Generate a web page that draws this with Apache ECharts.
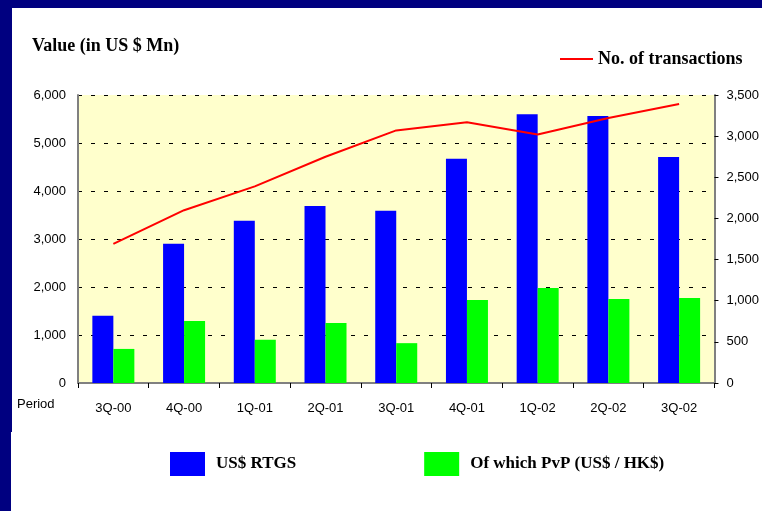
<!DOCTYPE html>
<html>
<head>
<meta charset="utf-8">
<script src="https://cdn.jsdelivr.net/npm/echarts@6/dist/echarts.min.js"></script>
<style>
  html, body { margin: 0; padding: 0; background: #fff; }
  #chart { width: 762px; height: 511px; }
</style>
</head>
<body>
<div id="chart"></div>
<script>
// data
const periods = ['3Q-00', '4Q-00', '1Q-01', '2Q-01', '3Q-01', '4Q-01', '1Q-02', '2Q-02', '3Q-02'];
const rtgsValue = [1400, 2900, 3380, 3690, 3590, 4670, 5600, 5560, 4710];
const pvpValue = [710, 1290, 900, 1250, 830, 1730, 1980, 1750, 1770];
const transactions = [1690, 2100, 2390, 2750, 3070, 3170, 3020, 3220, 3390];

const sans = '"Liberation Sans", Arial, sans-serif';
const serif = '"Liberation Serif", "Times New Roman", serif';
const navy = '#000080';

const fmt = v => v.toLocaleString('en-US');

const chart = echarts.init(document.getElementById('chart'));
chart.setOption({
  animation: false,
  backgroundColor: '#fff',
  title: {
    text: 'Value (in US $ Mn)',
    left: 27, top: 32,
    textStyle: { fontFamily: serif, fontWeight: 'bold', fontSize: 18, color: '#000' }
  },
  legend: [
    {
      data: [{ name: 'No. of transactions', icon: 'rect' }],
      left: 560, top: 50, padding: 0,
      itemWidth: 33, itemHeight: 2, itemGap: 0,
      textStyle: { fontFamily: serif, fontWeight: 'bold', fontSize: 18, color: '#000', padding: [0, 0, 0, 0] }
    },
    {
      data: ['US$ RTGS', 'Of which PvP (US$ / HK$)'],
      left: 170, top: 452, padding: 0,
      icon: 'rect',
      itemWidth: 35, itemHeight: 24, itemGap: 128,
      textStyle: { fontFamily: serif, fontWeight: 'bold', fontSize: 17, color: '#000', padding: [6, 0, 0, 6] }
    }
  ],
  grid: { left: 78, right: 47, top: 95, bottom: 128, show: true, backgroundColor: '#FFFFCC', borderWidth: 0 },
  xAxis: {
    type: 'category',
    data: periods,
    axisLine: { lineStyle: { color: '#808080', width: 2 } },
    axisTick: { show: true, length: 5, lineStyle: { color: '#000' } },
    axisLabel: { margin: 19, fontFamily: sans, fontSize: 13, color: '#000' }
  },
  yAxis: [
    {
      type: 'value', min: 0, max: 6000, interval: 1000,
      axisLine: { show: true, lineStyle: { color: '#808080', width: 2 } },
      axisTick: { show: false },
      axisLabel: { margin: 12, fontFamily: sans, fontSize: 13, color: '#000', formatter: fmt },
      splitLine: { show: true, lineStyle: { color: '#000', type: [4, 9], width: 1 } }
    },
    {
      type: 'value', min: 0, max: 3500, interval: 500, position: 'right',
      axisLine: { show: true, lineStyle: { color: '#808080', width: 2 } },
      axisTick: { show: true, length: 4, lineStyle: { color: '#000' } },
      axisLabel: { margin: 12, fontFamily: sans, fontSize: 13, color: '#000', formatter: fmt },
      splitLine: { show: false }
    }
  ],
  series: [
    {
      name: 'US$ RTGS', type: 'bar', data: rtgsValue,
      barWidth: 21, barGap: '0%',
      itemStyle: { color: '#0000FF' }
    },
    {
      name: 'Of which PvP (US$ / HK$)', type: 'bar', data: pvpValue,
      barWidth: 21, barGap: '0%',
      itemStyle: { color: '#00FF00' }
    },
    {
      name: 'No. of transactions', type: 'line', data: transactions,
      yAxisIndex: 1, symbol: 'none', z: 5,
      lineStyle: { color: '#FF0000', width: 2 },
      itemStyle: { color: '#FF0000' }
    }
  ],
  graphic: [
    { type: 'rect', shape: { x: 0, y: 0, width: 762, height: 8 }, style: { fill: navy } },
    { type: 'rect', shape: { x: 0, y: 0, width: 12, height: 432 }, style: { fill: navy } },
    { type: 'rect', shape: { x: 0, y: 432, width: 11, height: 79 }, style: { fill: navy } },
    { type: 'text', left: 17, top: 398, style: { text: 'Period', font: '13px ' + sans, fill: '#000' } }
  ]
});
</script>
</body>
</html>
